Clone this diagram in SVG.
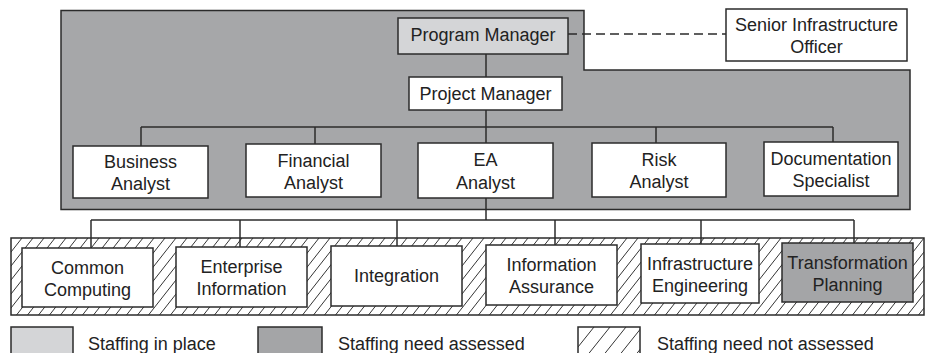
<svg xmlns="http://www.w3.org/2000/svg" width="933" height="353" viewBox="0 0 933 353">
<style>
text{font-family:"Liberation Sans",Arial,sans-serif;font-size:18px;fill:#222;text-anchor:middle}
.lg{text-anchor:start}
.box{fill:#fff;stroke:#2b2b2b;stroke-width:1.5}
.lt{fill:#d4d5d7;stroke:#2b2b2b;stroke-width:1.5}
.dk{fill:#a4a5a7;stroke:#2b2b2b;stroke-width:1.5}
.con{fill:none;stroke:#2b2b2b;stroke-width:1.5}
.dash{stroke-dasharray:9,5}
</style>
<defs>
<pattern id="hatch" patternUnits="userSpaceOnUse" width="11" height="14">
<path d="M0,14 L11,0 M-11,14 L0,0 M11,14 L22,0" stroke="#333" stroke-width="1"/>
</pattern>
<pattern id="hatch2" patternUnits="userSpaceOnUse" width="16" height="20" x="578" y="327">
<path d="M0,20 L16,0 M-16,20 L0,0 M16,20 L32,0" stroke="#333" stroke-width="1"/>
</pattern>
</defs>
<rect width="933" height="353" fill="#fff"/>
<g id="management-panel">
<path d="M61,10.5 L584,10.5 L584,70 L910,70 L910,209.5 L61,209.5 Z" fill="#a6a7a9" stroke="#2b2b2b" stroke-width="1.5"/>
</g>
<g id="functions-band">
<rect x="11" y="238" width="913" height="77" fill="#fff"/>
<rect x="11" y="238" width="913" height="77" fill="url(#hatch)" stroke="#2b2b2b" stroke-width="1.5"/>
</g>
<g id="connectors">
<line class="con" x1="486" y1="54" x2="486" y2="77"/>
<line class="con dash" x1="568" y1="34" x2="726" y2="34"/>
<line class="con" x1="486" y1="110" x2="486" y2="143"/>
<line class="con" x1="141" y1="127" x2="833" y2="127"/>
<line class="con" x1="141" y1="127" x2="141" y2="146"/>
<line class="con" x1="315" y1="127" x2="315" y2="144"/>
<line class="con" x1="656" y1="127" x2="656" y2="143"/>
<line class="con" x1="833" y1="127" x2="833" y2="142"/>
<line class="con" x1="486" y1="198" x2="486" y2="220"/>
<line class="con" x1="91" y1="220" x2="854" y2="220"/>
<line class="con" x1="91" y1="220" x2="91" y2="248"/>
<line class="con" x1="240" y1="220" x2="240" y2="247"/>
<line class="con" x1="397" y1="220" x2="397" y2="246"/>
<line class="con" x1="555" y1="220" x2="555" y2="245"/>
<line class="con" x1="701" y1="220" x2="701" y2="244"/>
<line class="con" x1="854" y1="220" x2="854" y2="243"/>
</g>
<g id="program-manager">
<rect class="lt" x="398" y="18" width="170" height="36"/>
<text x="483" y="40.5">Program Manager</text>
</g>
<g id="senior-infrastructure-officer">
<rect class="box" x="726" y="9" width="181" height="52"/>
<text x="816.5" y="31">Senior Infrastructure</text>
<text x="816.5" y="53">Officer</text>
</g>
<g id="project-manager">
<rect class="box" x="409" y="77" width="153" height="33"/>
<text x="485.5" y="100">Project Manager</text>
</g>
<g id="business-analyst">
<rect class="box" x="73" y="146" width="135" height="52"/>
<text x="140.5" y="168">Business</text>
<text x="140.5" y="190">Analyst</text>
</g>
<g id="financial-analyst">
<rect class="box" x="246" y="144" width="135" height="53"/>
<text x="313.5" y="167">Financial</text>
<text x="313.5" y="189">Analyst</text>
</g>
<g id="ea-analyst">
<rect class="box" x="418" y="143" width="135" height="55"/>
<text x="485.5" y="166">EA</text>
<text x="485.5" y="189">Analyst</text>
</g>
<g id="risk-analyst">
<rect class="box" x="592" y="143" width="134" height="54"/>
<text x="659" y="166">Risk</text>
<text x="659" y="188">Analyst</text>
</g>
<g id="documentation-specialist">
<rect class="box" x="764" y="142" width="134" height="54"/>
<text x="831" y="165">Documentation</text>
<text x="831" y="187">Specialist</text>
</g>
<g id="common-computing">
<rect class="box" x="22" y="248" width="131" height="59"/>
<text x="87.5" y="274">Common</text>
<text x="87.5" y="296">Computing</text>
</g>
<g id="enterprise-information">
<rect class="box" x="176" y="247" width="131" height="60"/>
<text x="241.5" y="273">Enterprise</text>
<text x="241.5" y="295">Information</text>
</g>
<g id="integration">
<rect class="box" x="331" y="246" width="131" height="60"/>
<text x="396.5" y="282">Integration</text>
</g>
<g id="information-assurance">
<rect class="box" x="486" y="245" width="131" height="60"/>
<text x="551.5" y="271">Information</text>
<text x="551.5" y="293">Assurance</text>
</g>
<g id="infrastructure-engineering">
<rect class="box" x="641" y="244" width="118" height="59"/>
<text x="700" y="270">Infrastructure</text>
<text x="700" y="292">Engineering</text>
</g>
<g id="transformation-planning">
<rect class="dk" x="782" y="243" width="131" height="59"/>
<text x="847.5" y="269">Transformation</text>
<text x="847.5" y="291">Planning</text>
</g>
<g id="legend-in-place">
<rect class="lt" x="11" y="327" width="62" height="34"/>
<text class="lg" x="88" y="350">Staffing in place</text>
</g>
<g id="legend-assessed">
<rect class="dk" x="258" y="327" width="64" height="34"/>
<text class="lg" x="338" y="350">Staffing need assessed</text>
</g>
<g id="legend-not-assessed">
<rect x="578" y="327" width="62" height="34" fill="url(#hatch2)" stroke="#2b2b2b" stroke-width="1.5"/>
<text class="lg" x="657" y="350">Staffing need not assessed</text>
</g>
</svg>
